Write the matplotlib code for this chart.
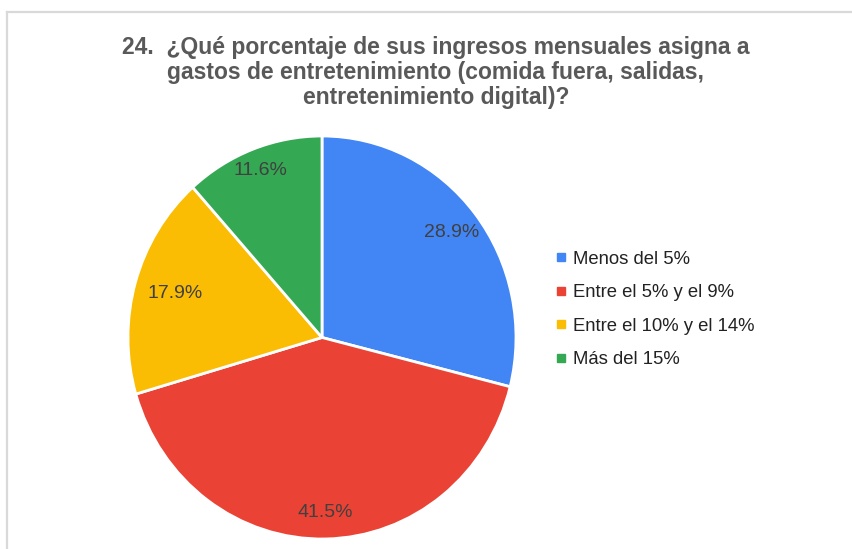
import matplotlib
matplotlib.use("Agg")
import matplotlib.pyplot as plt
from matplotlib.lines import Line2D
import numpy as np

categories = ["Menos del 5%", "Entre el 5% y el 9%", "Entre el 10% y el 14%", "Más del 15%"]
values = [28.9, 41.5, 17.9, 11.6]
colors = ["#4285F4", "#EA4335", "#FBBC04", "#34A853"]
label_dist = [0.85, 0.87, 0.79, 0.885]
title = "24.  ¿Qué porcentaje de sus ingresos mensuales asigna a\ngastos de entretenimiento (comida fuera, salidas,\nentretenimiento digital)?"

W, H = 853, 549
fig = plt.figure(figsize=(W / 100, H / 100), dpi=100)

# frame border
fig.add_artist(Line2D([7 / W, 1.0], [1 - 12 / H, 1 - 12 / H], transform=fig.transFigure, color="#d9d9d9", lw=1.6))
fig.add_artist(Line2D([7 / W, 7 / W], [0, 1 - 12 / H], transform=fig.transFigure, color="#d9d9d9", lw=1.6))

cx, cy, rx, ry = 322, 337.5, 194, 201.5
ax = fig.add_axes([(cx - rx) / W, (H - cy - ry) / H, 2 * rx / W, 2 * ry / H])
wedges, texts, autotexts = ax.pie(
    values, colors=colors, startangle=90, counterclock=False,
    autopct="%1.1f%%", pctdistance=0.85,
    wedgeprops=dict(edgecolor="white", linewidth=2),
    textprops=dict(color="#404040", fontsize=14, family="Liberation Sans"),
)
for w, t, d in zip(wedges, autotexts, label_dist):
    ang = np.deg2rad((w.theta1 + w.theta2) / 2)
    t.set_position((d * np.cos(ang), d * np.sin(ang)))
ax.set_xlim(-1, 1)
ax.set_ylim(-1, 1)
ax.set_aspect("auto")
ax.axis("off")

fig.text(436 / W, 1 - 36 / H, title, ha="center", va="top", fontsize=16.5, fontweight="bold",
         color="#595959", family="Liberation Sans", linespacing=1.1)

handles = [Line2D([0], [0], marker="s", linestyle="none", markersize=5.5, markerfacecolor=c, markeredgecolor=c) for c in colors]
fig.legend(handles, categories, loc="upper left", bbox_to_anchor=(539 / W, 1 - 238 / H),
           frameon=False, labelspacing=0.89, handletextpad=0.15, handlelength=1.0,
           borderpad=0.2, labelcolor="#222222",
           prop=dict(family="Liberation Sans", size=13.3))

fig.savefig("out.png", dpi=100, facecolor="white")
